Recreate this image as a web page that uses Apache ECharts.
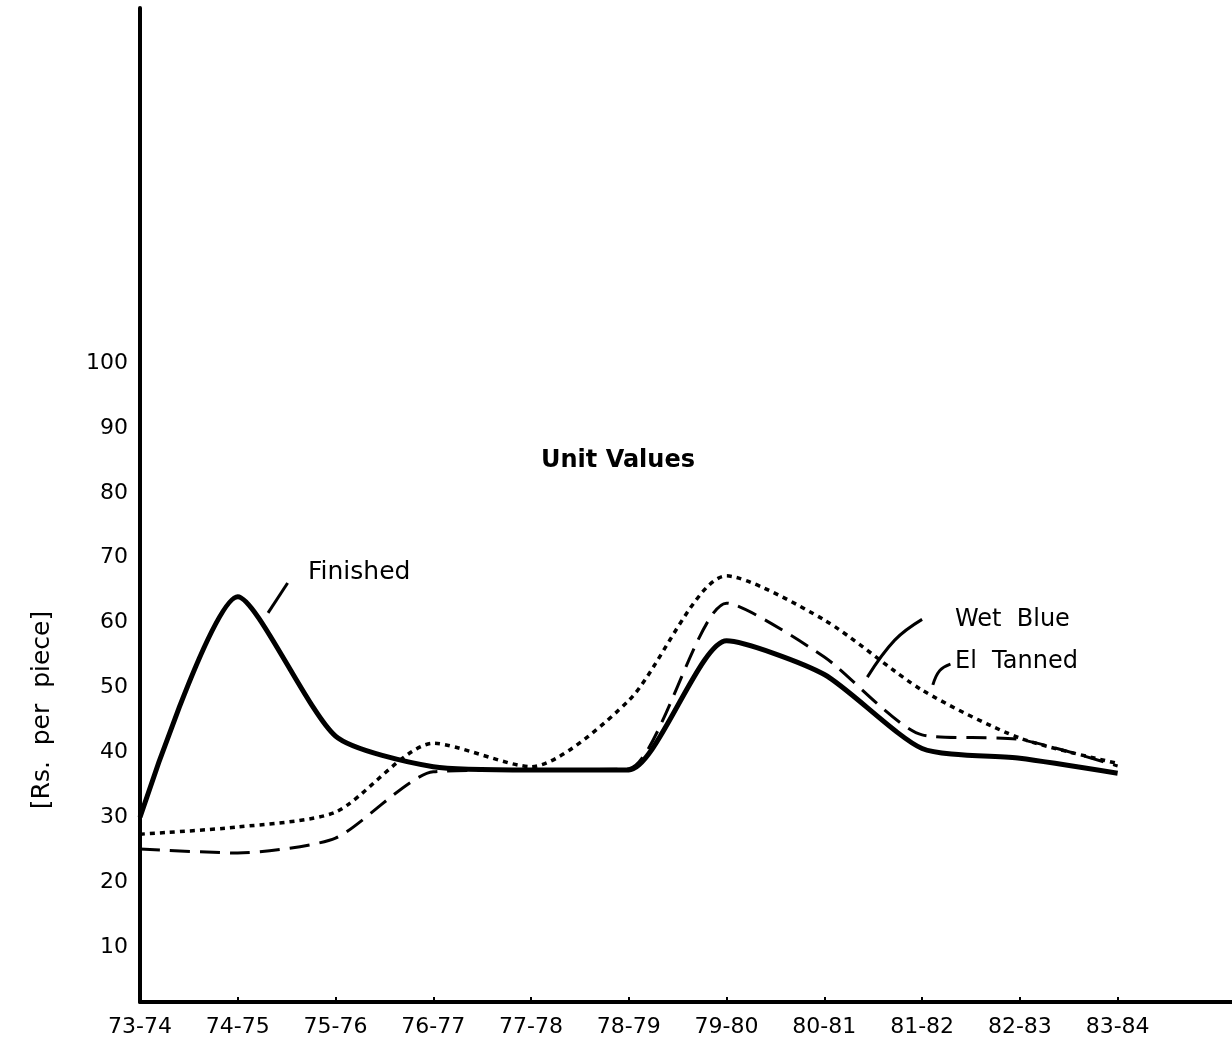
<!DOCTYPE html>
<html>
<head>
<meta charset="utf-8">
<script src="https://cdn.jsdelivr.net/npm/echarts@6/dist/echarts.min.js"></script>
<style>
html,body{margin:0;padding:0;background:#fff;}
#c{width:1232px;height:1049px;}
</style>
</head>
<body>
<div id="c"></div>
<script>
// ---- data ----
const years = ['73-74','74-75','75-76','76-77','77-78','78-79','79-80','80-81','81-82','82-83','83-84'];
const finished = [30, 64, 42.5, 37.8, 37.3, 37.3, 57.2, 52, 40.6, 39.1, 36.8];
const wetBlue  = [25.1, 24.5, 26.8, 37, 37.3, 37.5, 63, 54.7, 42.7, 42, 37.9];
const elTanned = [27.4, 28.5, 30.8, 41.4, 37.8, 48, 67.2, 60.4, 49.6, 42.2, 38.3];
const yTicks = [10, 20, 30, 40, 50, 60, 70, 80, 90, 100];
const xTicks = years.map((_, i) => i);

const toPairs = arr => arr.map((v, i) => [i, v]);
const FONT = 'DejaVu Sans';

const chart = echarts.init(document.getElementById('c'), null, {renderer: 'canvas'});
const option = {
  backgroundColor: '#fff',
  animation: false,
  grid: {left: 140, right: 0, top: 8, bottom: 47, containLabel: false},
  title: {
    text: 'Unit Values',
    left: 613, top: 444, textAlign: 'center',
    textStyle: {fontFamily: FONT, fontSize: 24, fontWeight: 'bold', color: '#000'}
  },
  xAxis: {
    type: 'value', min: 0, max: 11.17,
    splitLine: {show: false},
    axisLine: {show: true, lineStyle: {color: '#000', width: 4}},
    axisTick: {show: true, inside: true, length: 5, customValues: xTicks.slice(1), lineStyle: {color: '#000', width: 2}},
    axisLabel: {
      customValues: xTicks, margin: 14,
      formatter: v => years[Math.round(v)] || '',
      fontFamily: FONT, fontSize: 22, color: '#000'
    }
  },
  yAxis: {
    type: 'value', min: 1.54, max: 154.7,
    splitLine: {show: false},
    axisLine: {show: true, lineStyle: {color: '#000', width: 4}},
    axisTick: {show: false},
    axisLabel: {customValues: yTicks, margin: 12, fontFamily: FONT, fontSize: 22, color: '#000'}
  },
  series: [
    {name: 'Finished', type: 'line', data: toPairs(finished), smooth: 0.22, showSymbol: false,
     lineStyle: {color: '#000', width: 5}},
    {name: 'Wet Blue', type: 'line', data: toPairs(wetBlue), smooth: 0.22, showSymbol: false,
     lineStyle: {color: '#000', width: 3, type: [20, 10]}},
    {name: 'El Tanned', type: 'line', data: toPairs(elTanned), smooth: 0.25, showSymbol: false,
     lineStyle: {color: '#000', width: 3.5, type: [5, 5]}}
  ]
};
chart.setOption(option);

// annotations: anchor points in data space, converted through the chart's scales
const P = p => chart.convertToPixel({gridIndex: 0}, p);
const leaders = [
  [[1.31, 61.5], [1.51, 66.1]],
  [[7.44, 51.6], [7.72, 57.3], [8.0, 60.5]],
  [[8.11, 50.4], [8.18, 52.6], [8.29, 53.6]]
];
const graphics = leaders.map(pts => ({
  type: 'polyline', shape: {points: pts.map(P), smooth: 0.4},
  style: {stroke: '#000', lineWidth: 3, fill: null}
}));
const txt = (s, x, y, size) => ({
  type: 'text', x: x, y: y,
  style: {text: s, fontFamily: FONT, fontSize: size, fill: '#000', textVerticalAlign: 'middle', verticalAlign: 'middle'}
});
graphics.push(txt('Finished', 308, 572, 25));
graphics.push(txt('Wet  Blue', 955, 620, 24));
graphics.push(txt('El  Tanned', 955, 662, 24));
graphics.push({
  type: 'text', x: 42, y: 710, rotation: Math.PI / 2,
  style: {text: '[Rs.  per  piece]', fontFamily: FONT, fontSize: 25, fill: '#000',
          align: 'center', verticalAlign: 'middle', textAlign: 'center', textVerticalAlign: 'middle'}
});
chart.setOption({graphic: graphics});
</script>
</body>
</html>
